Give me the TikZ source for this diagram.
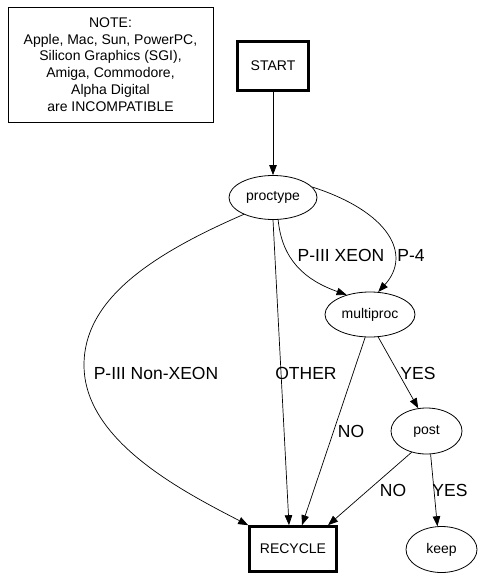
\documentclass[tikz,border=0pt]{standalone}
\usepackage{fontspec}
\setmainfont{Liberation Sans}
\usepackage{tikz}
\usetikzlibrary{positioning,calc}
\usetikzlibrary{arrows.meta,shapes.geometric}
\newcommand{\nodefont}{\fontsize{14}{16.8}\selectfont}
\newcommand{\lblfont}{\fontsize{17.5}{20}\selectfont}
\tikzset{
  box/.style={rectangle,draw=black,line width=2.6pt,font=\nodefont,inner sep=0pt},
  oval/.style={ellipse,draw=black,line width=0.8pt,font=\nodefont,inner sep=0pt,
    minimum width=88pt,minimum height=44pt},
  notebox/.style={rectangle,draw=black,line width=0.8pt,font=\nodefont,align=center,
    inner sep=0pt,minimum width=205pt,minimum height=115pt},
  arc/.style={draw=black,line width=0.7pt,-{Triangle[length=10pt,width=7.5pt]}},
  lbl/.style={font=\lblfont,inner sep=0pt},
}

\begin{document}
\begin{tikzpicture}[x=1pt,y=-1pt]
    \useasboundingbox (0,0) rectangle (487,580);
    % nodes
    \node[notebox] (note) at (110.5,64.5) {NOTE:\\Apple, Mac, Sun, PowerPC,\\Silicon Graphics (SGI),\\Amiga, Commodore,\\Alpha Digital\\are INCOMPATIBLE};
    \node[box,minimum width=71pt,minimum height=49pt] (start) at (273,66) {START};
    \node[oval] (proctype) at (273,197.5) {proctype};
    \node[oval,minimum width=90pt,minimum height=45pt] (multiproc) at (370,314.5) {multiproc};
    \node[oval,minimum width=71pt,minimum height=46pt] (post) at (426.5,431) {post};
    \node[oval,minimum width=71pt,minimum height=46pt] (keep) at (441.5,549.5) {keep};
    \node[box,minimum width=87pt,minimum height=45pt] (recycle) at (293,549) {RECYCLE};
    % connectors
    \draw[arc] (start) -- (proctype);
    \draw[arc] (proctype.210) .. controls (150,255) and (84,300) .. (84,365)
      .. controls (84,440) and (180,490) .. (recycle.north west);
    \draw[arc] (proctype.south) -- ([xshift=-4pt]recycle.north);
    \draw[arc] (proctype.283) .. controls (282,260) and (305,280) .. (multiproc.140);
    \draw[arc] (proctype.15) .. controls (390,212) and (412,255) .. (multiproc.70);
    \draw[arc] (multiproc.258) -- ([xshift=9pt]recycle.north);
    \draw[arc] (multiproc.290) -- (post.110);
    \draw[arc] (post.235) -- ([xshift=35pt]recycle.north);
    \draw[arc] (post.280) -- (keep.100);
    % labels
    \node[lbl] (lblnonxeon) at (156,373) {P-III Non-XEON};
    \node[lbl] (lblother) at (306,373) {OTHER};
    \node[lbl] (lblxeon) at (341,255) {P-III XEON};
    \node[lbl] (lblpfour) at (411,255) {P-4};
    \node[lbl] (lblmultino) at (351,431) {NO};
    \node[lbl] (lblmultiyes) at (418,373) {YES};
    \node[lbl] (lblpostno) at (393,490) {NO};
    \node[lbl] (lblpostyes) at (450,490) {YES};
\end{tikzpicture}
\end{document}
